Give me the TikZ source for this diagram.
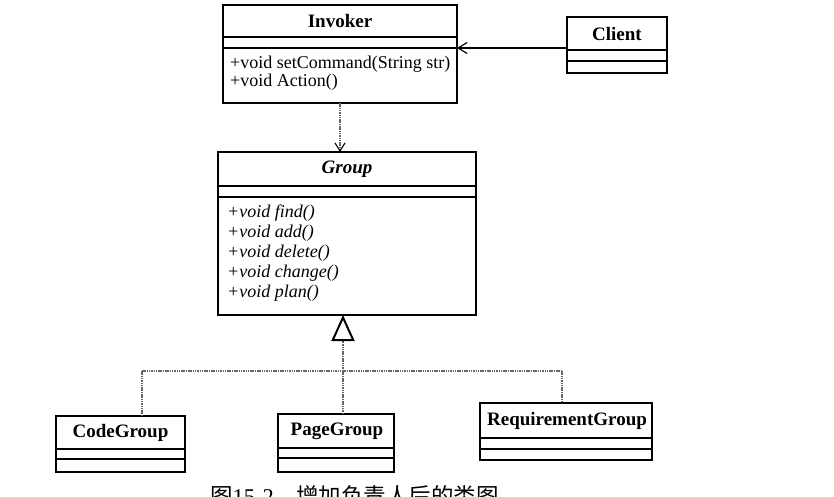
\documentclass[tikz,border=0pt]{standalone}
\usepackage{fontspec}
\setmainfont{Liberation Serif}
\newfontfamily\cjk{Noto Sans CJK SC}
\usepackage{tikz}
\usetikzlibrary{arrows.meta}
\usetikzlibrary{calc}
\tikzset{>=latex}
\usepackage{xcolor}
\colorlet{dotgray}{black!60}
\tikzstyle{classbox}=[draw,line width=1.3pt,anchor=north west,inner sep=0,outer sep=0]
\tikzstyle{cname}=[font=\fontsize{19}{19}\selectfont\bfseries,inner sep=0]
\tikzstyle{member}=[font=\fontsize{18}{18}\selectfont,anchor=west,inner sep=0]
\tikzstyle{realize}=[line width=1.1pt,dotgray,dash pattern=on 1.5pt off 0.8pt]
\tikzstyle{sep}=[line width=1.3pt]

\begin{document}
\begin{tikzpicture}[x=1pt,y=-1pt]
    \useasboundingbox (0,0) rectangle (834,496);

    % Invoker
    \node[classbox,minimum width=234pt,minimum height=98pt] (invoker) at (223,5) {};
    \draw[sep] (223,37) -- (457,37);
    \draw[sep] (223,48) -- (457,48);
    \node[cname] (invokername) at (340,21) {Invoker};
    \node[member] (setcommand) at (230,64) {+void setCommand(String str)};
    \node[member] (action) at (230,82) {+void Action()};

    % Client
    \node[classbox,minimum width=100pt,minimum height=56pt] (client) at (567,17) {};
    \draw[sep] (567,50) -- (667,50);
    \draw[sep] (567,61) -- (667,61);
    \node[cname] (clientname) at (617,33.5) {Client};

    % Group
    \node[classbox,minimum width=258pt,minimum height=163pt] (group) at (218,152) {};
    \draw[sep] (218,186) -- (476,186);
    \draw[sep] (218,197) -- (476,197);
    \node[cname,font=\fontsize{19}{19}\selectfont\bfseries\itshape] (groupname) at (347,169) {Group};
    \node[member,font=\fontsize{18}{18}\selectfont\itshape] (find) at (227,213) {+void find()};
    \node[member,font=\fontsize{18}{18}\selectfont\itshape] (add) at (227,233) {+void add()};
    \node[member,font=\fontsize{18}{18}\selectfont\itshape] (delete) at (227,253) {+void delete()};
    \node[member,font=\fontsize{18}{18}\selectfont\itshape] (change) at (227,273) {+void change()};
    \node[member,font=\fontsize{18}{18}\selectfont\itshape] (plan) at (227,293) {+void plan()};

    % subclasses
    \node[classbox,minimum width=129pt,minimum height=56pt] (code) at (56,416) {};
    \draw[sep] (56,449) -- (185,449);
    \draw[sep] (56,459) -- (185,459);
    \node[cname] (codename) at (120.5,432.5) {CodeGroup};

    \node[classbox,minimum width=116pt,minimum height=58pt] (page) at (278,414) {};
    \draw[sep] (278,448) -- (394,448);
    \draw[sep] (278,458) -- (394,458);
    \node[cname] (pagename) at (337,431) {PageGroup};

    \node[classbox,minimum width=172pt,minimum height=57pt] (req) at (480,403) {};
    \draw[sep] (480,438) -- (652,438);
    \draw[sep] (480,449) -- (652,449);
    \node[cname] (reqname) at (567,420.5) {RequirementGroup};

    % associations
    \coordinate (clientport) at ([yshift=-3pt]client.west);
    \draw[line width=1.2pt,-{Straight Barb[length=9pt,width=11pt]}] (clientport) -- (invoker.east |- clientport);
    \draw[realize,-{Straight Barb[length=8pt,width=10pt,black]}] (invoker.south) -- (invoker.south |- group.north);

    % realization tree
    \coordinate (jcode) at (142,371);
    \coordinate (joint) at (343,371);
    \coordinate (jreq) at (562,371);
    \draw[realize] (jcode) -- (jreq);
    \draw[realize] (jcode) -- (jcode |- code.north);
    \draw[realize] (jreq) -- (jreq |- req.north);
    \draw[realize] (page.north -| joint) -- (joint);
    \draw[realize,-{Triangle[open,length=26pt,width=23pt,line width=2pt,black]}] (joint) -- (joint |- group.south);

    \node[anchor=base west,inner sep=0] (caption) at (210,504) {\fontsize{22.5}{22.5}\selectfont{\cjk 图}15-2\hspace{1em}{\cjk 增加负责人后的类图}};
\end{tikzpicture}
\end{document}
